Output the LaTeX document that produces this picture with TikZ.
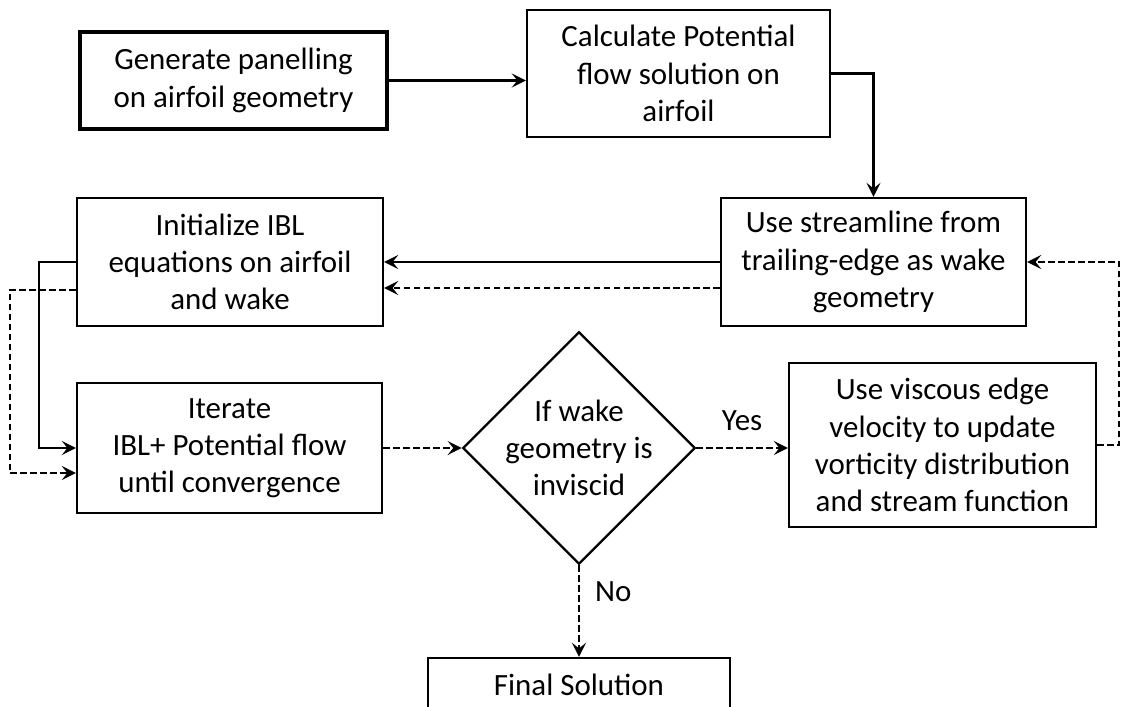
\documentclass[tikz,border=0pt]{standalone}
\usepackage{fontspec}
\setmainfont{Carlito}
\usetikzlibrary{shapes.geometric,arrows.meta}

\begin{document}
\begin{tikzpicture}[
    x=0.025cm, y=-0.025cm,
    stepbox/.style={
        rectangle,
        draw=black,
        line width=1.6pt,
        align=center,
        inner sep=0pt,
        font=\fontsize{22}{26.5}\selectfont
    },
    decision/.style={
        diamond,
        aspect=1,
        draw=black,
        line width=1.6pt,
        align=center,
        inner sep=-2pt,
        font=\fontsize{22}{26.5}\selectfont
    },
    flow/.style={
        -{Stealth[length=10pt,width=10pt,inset=4pt]},
        line width=1.8pt
    },
    dashflow/.style={
        flow,
        dash pattern=on 4.6pt off 2.5pt
    },
    tag/.style={
        inner sep=0pt,
        font=\fontsize{22}{26.5}\selectfont
    }
]

\useasboundingbox (0,0) rectangle (1121,706);
\clip (0,0) rectangle (1121,706);

% Top row
\node[stepbox, line width=2.2pt, minimum width=7.675cm, minimum height=2.425cm]
      (panel) at (233.5,80.5) {Generate panelling\\on airfoil geometry};
\node[stepbox, minimum width=7.575cm, minimum height=3.175cm]
      (potential) at (678.5,73.5) {Calculate Potential\\flow solution on\\airfoil};

% Second row
\node[stepbox, minimum width=7.65cm, minimum height=3.2cm]
      (init) at (230,262) {Initialize IBL\\equations on airfoil\\and wake};
\node[stepbox, minimum width=7.625cm, minimum height=3.2cm]
      (wake) at (873.5,262) {Use streamline from\\trailing-edge as wake\\geometry};

% Third row
\node[stepbox, minimum width=7.625cm, minimum height=3.25cm]
      (iterate) at (229.5,448) {Iterate\\IBL+ Potential flow\\until convergence};
\node[decision] (test) at (579,448) {If wake\\geometry is\\inviscid};
\node[stepbox, minimum width=7.675cm, minimum height=4.1cm]
      (viscous) at (942.5,445) {Use viscous edge\\velocity to update\\vorticity distribution\\and stream function};

% Final
\node[stepbox, minimum width=7.55cm, minimum height=1.35cm]
      (final) at (579,685) {Final Solution};

% Solid connectors
\draw[flow] (panel.east) -- (panel.east -| potential.west);
\draw[flow] (potential.east) -| (wake.north);
\draw[flow] (wake.west) -- (init.east);
\draw[flow] (init.west) -- ++(-0.925cm,0) |- (iterate.west);

% Dashed connectors
\draw[dashflow] ([yshift=-0.65cm]wake.west) -- ([yshift=-0.65cm]init.east);
\draw[dashflow] ([yshift=-0.7cm]init.west) -- ++(-1.65cm,0)
    |- ([yshift=-0.625cm]iterate.west);
\draw[dashflow] (iterate.east) -- (test.west);
\draw[dashflow] (test.east) -- (test.east -| viscous.west)
    node[tag, midway, above=4mm] (yes) {Yes};
\draw[dashflow] (test.south) -- (final.north)
    node[tag, pos=0.29, right=3.7mm] (no) {No};
\draw[dashflow] (viscous.east) -- ++(0.55cm,0) |- (wake.east);

\end{tikzpicture}
\end{document}
